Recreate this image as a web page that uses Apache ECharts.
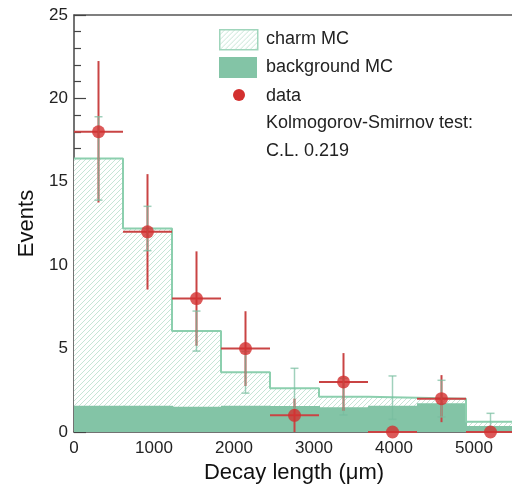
<!DOCTYPE html>
<html>
<head>
<meta charset="utf-8">
<script src="https://cdn.jsdelivr.net/npm/echarts@6/dist/echarts.min.js"></script>
<style>html,body{margin:0;padding:0;background:#fff}#c{width:512px;height:490px}</style>
</head>
<body>
<div id="c"></div>
<script>
// ---- data ----
const binEdges = [0, 612.5, 1225, 1837.5, 2450, 3062.5, 3675, 4287.5, 4900, 5512.5];
const charmTotal = [16.4, 12.2, 6.05, 3.58, 2.62, 2.12, 2.06, 2.0, 0.62];   // charm + background (stacked)
const charmErr   = [2.5, 1.33, 1.2, 1.25, 1.2, 1.1, 1.3, 1.1, 0.5];
const background = [1.58, 1.58, 1.52, 1.58, 1.56, 1.48, 1.58, 1.72, 0.36];
const dataVals   = [18, 12, 8, 5, 1, 3, 0, 2, 0];
const dataErr    = [4.24, 3.46, 2.83, 2.24, 1.0, 1.73, 0, 1.41, 0];
const xTicks = [0, 1000, 2000, 3000, 4000, 5000];
const yTicks = [0, 5, 10, 15, 20, 25];

const FONT = '"Liberation Sans", Arial, Helvetica, sans-serif';
const GREEN = '#83c4a6';
const GREEN_LINE = '#8ccfae';
const RED = '#d3302f';
const RED_BAR = '#c94444';

// hatch pattern
function makeHatch(color) {
  const c = document.createElement('canvas');
  c.width = 5; c.height = 5;
  const g = c.getContext('2d');
  g.fillStyle = '#fff'; g.fillRect(0, 0, 5, 5);
  g.strokeStyle = color; g.lineWidth = 1;
  g.beginPath();
  g.moveTo(-1, 6); g.lineTo(6, -1);
  g.moveTo(-1, 1); g.lineTo(1, -1);
  g.moveTo(4, 6); g.lineTo(6, 4);
  g.stroke();
  return c;
}
const hatch = { image: makeHatch('#c6e5d6'), repeat: 'repeat' };

const bins = charmTotal.map((v, i) => [binEdges[i], binEdges[i + 1], v, background[i], charmErr[i]]);
const centers = charmTotal.map((v, i) => (binEdges[i] + binEdges[i + 1]) / 2);
const stepData = charmTotal.map((v, i) => [binEdges[i], v]).concat([[binEdges[binEdges.length - 1], charmTotal[charmTotal.length - 1]]]);
const dataPts = dataVals.map((v, i) => [centers[i], v, dataErr[i], binEdges[i], binEdges[i + 1]]);

function binRect(api, top) {
  const p0 = api.coord([api.value(0), top]);
  const p1 = api.coord([api.value(1), 0]);
  const x0 = Math.floor(p0[0]), x1 = Math.ceil(p1[0]) + 1;
  return { x: x0, y: p0[1], width: x1 - x0, height: p1[1] - p0[1] };
}

const chart = echarts.init(document.getElementById('c'), null, { renderer: 'canvas' });
chart.setOption({
  animation: false,
  textStyle: { fontFamily: FONT },
  grid: { left: 74, top: 15, right: -2, bottom: 58, containLabel: false, outerBoundsMode: 'none' },
  xAxis: [{
    type: 'value', min: 0, max: 5500, interval: 1000,
    name: 'Decay length (\u03bcm)', nameLocation: 'middle', nameGap: 30,
    nameTextStyle: { fontSize: 22, color: '#111', fontFamily: FONT },
    axisLine: { show: true, lineStyle: { color: '#444', width: 1.5 } },
    axisTick: { show: false },
    splitLine: { show: false },
    axisLabel: { fontSize: 17, color: '#222', margin: 8, fontFamily: FONT,
      formatter: v => xTicks.indexOf(v) >= 0 ? String(v) : '' }
  }, {
    type: 'value', position: 'top', min: 0, max: 5500,
    axisLine: { show: true, onZero: false, lineStyle: { color: '#555', width: 1.5 } },
    axisTick: { show: false }, axisLabel: { show: false }, splitLine: { show: false }
  }],
  yAxis: {
    type: 'value', min: 0, max: 25, interval: 5,
    name: 'Events', nameLocation: 'middle', nameGap: 34,
    nameTextStyle: { fontSize: 22, color: '#111', fontFamily: FONT },
    axisLine: { show: true, lineStyle: { color: '#444', width: 1.5 } },
    axisTick: { show: true, inside: true, length: 12, lineStyle: { color: '#444', width: 1.2 } },
    minorTick: { show: true, splitNumber: 5, length: 7, lineStyle: { color: '#444', width: 1.2 } },
    splitLine: { show: false },
    axisLabel: { fontSize: 17, color: '#222', margin: 6, fontFamily: FONT,
      formatter: v => yTicks.indexOf(v) >= 0 ? String(v) : '' }
  },
  series: [
    {
      name: 'charm MC', type: 'custom', z: 1,
      data: bins,
      renderItem: (params, api) => ({ type: 'rect', shape: binRect(api, api.value(2)), style: { fill: hatch } })
    },
    {
      name: 'background MC', type: 'custom', z: 2,
      data: bins,
      renderItem: (params, api) => ({ type: 'rect', shape: binRect(api, api.value(3)), style: { fill: GREEN } })
    },
    {
      name: 'charm outline', type: 'line', step: 'end', z: 3,
      data: stepData, symbol: 'none',
      lineStyle: { color: GREEN_LINE, width: 2 }
    },
    {
      name: 'data err', type: 'custom', z: 4,
      data: dataPts,
      renderItem: (params, api) => {
        const x = api.value(0), y = api.value(1), e = api.value(2);
        const l = api.coord([api.value(3), y]), r = api.coord([api.value(4), y]);
        const children = [{ type: 'line', shape: { x1: l[0], y1: l[1], x2: r[0], y2: r[1] },
          style: { stroke: RED_BAR, lineWidth: 2 } }];
        if (e > 0) {
          const t = api.coord([x, y + e]), b = api.coord([x, Math.max(0, y - e)]);
          children.push({ type: 'line', shape: { x1: t[0], y1: t[1], x2: b[0], y2: b[1] },
            style: { stroke: RED_BAR, lineWidth: 2 } });
        }
        return { type: 'group', children };
      }
    },
    {
      name: 'MC err', type: 'custom', z: 5,
      data: bins,
      renderItem: (params, api) => {
        const xc = (api.value(0) + api.value(1)) / 2, v = api.value(2), e = api.value(4);
        const t = api.coord([xc, v + e]), b = api.coord([xc, v - e]);
        const cw = 4;
        const st = { stroke: 'rgba(120,190,160,0.7)', lineWidth: 1.5 };
        return { type: 'group', children: [
          { type: 'line', shape: { x1: t[0], y1: t[1], x2: b[0], y2: b[1] }, style: st },
          { type: 'line', shape: { x1: t[0] - cw, y1: t[1], x2: t[0] + cw, y2: t[1] }, style: st },
          { type: 'line', shape: { x1: b[0] - cw, y1: b[1], x2: b[0] + cw, y2: b[1] }, style: st }
        ] };
      }
    },
    {
      name: 'data', type: 'scatter', z: 6,
      data: dataPts.map(d => [d[0], d[1]]),
      symbol: 'circle', symbolSize: 13,
      itemStyle: { color: RED }
    }
  ],
  graphic: [
    { type: 'rect', left: 219, top: 29, shape: { width: 38, height: 20 },
      style: { fill: hatch, stroke: '#9fd5bb', lineWidth: 1.5 } },
    { type: 'rect', left: 219, top: 57, shape: { width: 38, height: 21 },
      style: { fill: GREEN } },
    { type: 'circle', shape: { cx: 239, cy: 95, r: 6 }, style: { fill: RED } },
    { type: 'text', left: 266, top: 30, style: { text: 'charm MC', font: '18px ' + FONT, fill: '#222' } },
    { type: 'text', left: 266, top: 58, style: { text: 'background MC', font: '18px ' + FONT, fill: '#222' } },
    { type: 'text', left: 266, top: 87, style: { text: 'data', font: '18px ' + FONT, fill: '#222' } },
    { type: 'text', left: 266, top: 114, style: { text: 'Kolmogorov-Smirnov test:', font: '18px ' + FONT, fill: '#222' } },
    { type: 'text', left: 266, top: 142, style: { text: 'C.L. 0.219', font: '18px ' + FONT, fill: '#222' } }
  ]
});
</script>
</body>
</html>
